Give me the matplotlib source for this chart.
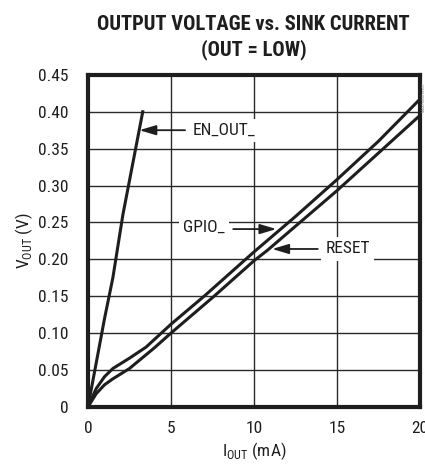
import matplotlib
matplotlib.use("Agg")
import matplotlib.pyplot as plt
from matplotlib import font_manager

# data
en_out_i = [0, 0.5, 1.0, 1.5, 2.1, 2.7, 3.3]
en_out_v = [0, 0.06, 0.12, 0.175, 0.26, 0.33, 0.40]

gpio_i = [0, 0.5, 1.0, 1.5, 2.5, 3.5, 5, 7, 10, 12.5, 15, 17.5, 20]
gpio_v = [0, 0.025, 0.041, 0.052, 0.066, 0.081, 0.112, 0.150, 0.210, 0.258, 0.308, 0.360, 0.417]

reset_i = [0, 0.5, 1.0, 1.5, 2.5, 4, 5, 7.6, 10, 10.8, 15, 20]
reset_v = [0, 0.018, 0.030, 0.038, 0.052, 0.080, 0.100, 0.150, 0.198, 0.212, 0.293, 0.395]

x_ticks = [0, 5, 10, 15, 20]
y_ticks = [0, 0.05, 0.10, 0.15, 0.20, 0.25, 0.30, 0.35, 0.40, 0.45]
y_labels = ["0", "0.05", "0.10", "0.15", "0.20", "0.25", "0.30", "0.35", "0.40", "0.45"]

installed = {f.name for f in font_manager.fontManager.ttflist}


def pick(cands):
    for c in cands:
        if c in installed:
            return c
    return "Liberation Sans"


body_font = pick(["Roboto Condensed", "Archivo Narrow", "PT Sans Narrow", "Sofia Sans Condensed",
                  "Saira SemiCondensed"])
title_font = pick(["Roboto Condensed", "Archivo Narrow", "Sofia Sans Condensed", "Saira Condensed"])

plt.rcParams["font.family"] = [body_font, "DejaVu Sans"]
plt.rcParams["mathtext.fontset"] = "custom"
plt.rcParams["mathtext.rm"] = body_font

ink = "#1e1e1e"
fig = plt.figure(figsize=(4.25, 4.65), dpi=100)
ax = fig.add_axes([0.207, 0.125, 0.781, 0.714])

ax.plot(en_out_i, en_out_v, color=ink, lw=2.2, zorder=3)
ax.plot(gpio_i, gpio_v, color=ink, lw=2.2, zorder=3)
ax.plot(reset_i, reset_v, color=ink, lw=2.2, zorder=3)

ax.set_xlim(0, 20)
ax.set_ylim(0, 0.45)
ax.set_xticks(x_ticks)
ax.set_yticks(y_ticks)
ax.set_yticklabels(y_labels)
ax.grid(True, color="#2a2a2a", lw=1.0)
ax.set_axisbelow(True)
ax.tick_params(length=0, labelsize=12.5, colors=ink)
ax.tick_params(axis="y", pad=14)
ax.tick_params(axis="x", pad=10)
for s in ax.spines.values():
    s.set_linewidth(3)
    s.set_color(ink)

box = dict(facecolor="white", edgecolor="none", pad=3)
arrow = dict(arrowstyle="-|>,head_length=1.0,head_width=0.3", color=ink, lw=1.3,
             shrinkA=0, shrinkB=0)
ax.annotate("", xy=(3.1, 0.375), xytext=(5.85, 0.375), arrowprops=arrow)
ax.text(6.3, 0.375, "EN_OUT_", fontsize=12.5, va="center", ha="left", bbox=box, color=ink)
ax.annotate("", xy=(11.35, 0.241), xytext=(8.75, 0.241), arrowprops=arrow)
ax.text(8.25, 0.244, "GPIO_", fontsize=12.5, va="center", ha="right", bbox=box, color=ink)
ax.annotate("", xy=(11.1, 0.214), xytext=(13.85, 0.214), arrowprops=arrow)
ax.text(14.3, 0.214, "RESET", fontsize=12.5, va="center", ha="left", bbox=box, color=ink)

ax.set_xlabel(r"I$_{\mathregular{OUT}}$ (mA)", fontsize=12.5, color=ink, labelpad=3)
ax.set_ylabel(r"V$_{\mathregular{OUT}}$ (V)", fontsize=12.5, color=ink, labelpad=2)

fig.text(0.597, 0.948, "OUTPUT VOLTAGE vs. SINK CURRENT", ha="center", va="center",
         fontsize=14.8, fontweight=900, color=ink, family=title_font)
fig.text(0.597, 0.893, "(OUT = LOW)", ha="center", va="center",
         fontsize=14.8, fontweight=900, color=ink, family=title_font)
fig.text(0.997, 0.79, "MAX16050 toc07", rotation=90, fontsize=3, color="#777777",
         ha="center", va="center")

fig.savefig("out.png", dpi=100)
